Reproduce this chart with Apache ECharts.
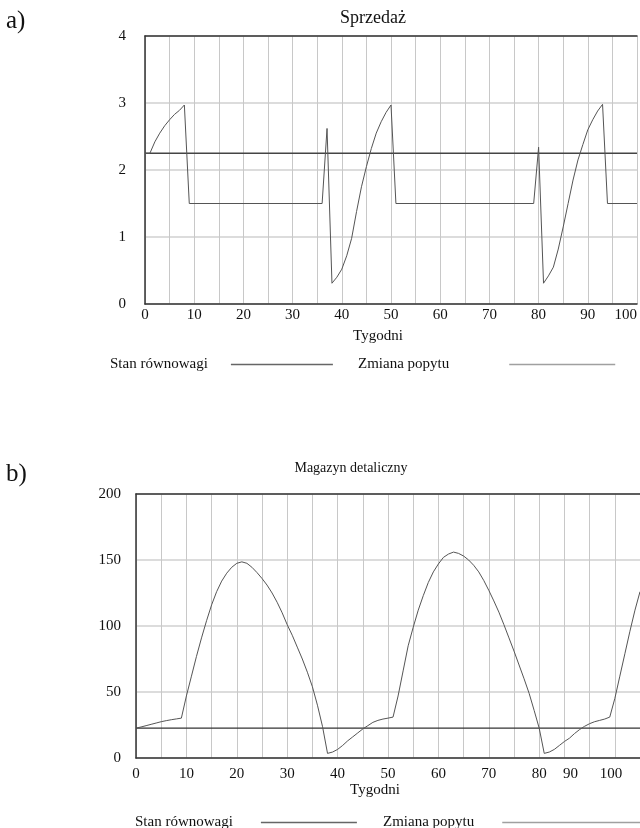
<!DOCTYPE html>
<html>
<head>
<meta charset="utf-8">
<title>Sprzedaż / Magazyn detaliczny</title>
<script src="https://cdn.jsdelivr.net/npm/echarts@6/dist/echarts.min.js"></script>
<style>
  html, body { margin: 0; padding: 0; background: #fff; }
  #main { width: 640px; height: 828px; }
</style>
</head>
<body>
<div id="main"></div>
<script>
// a) Sprzedaz - tygodnie i wartosci (odczytane z wykresu)
var salesWeeks = [0, 1, 2, 3, 4, 5, 6, 7, 8, 9,
  36, 37, 38, 39, 40, 41, 42, 43, 44, 45, 46, 47, 48, 49, 50, 51,
  79, 80, 81, 82, 83, 84, 85, 86, 87, 88, 89, 90, 91, 92, 93, 94,
  100];
var salesValues = [2.25, 2.25, 2.42, 2.55, 2.66, 2.75, 2.83, 2.89, 2.97, 1.5,
  1.5, 2.62, 0.31, 0.4, 0.52, 0.72, 0.98, 1.38, 1.75, 2.05, 2.32, 2.55, 2.72, 2.86, 2.97, 1.5,
  1.5, 2.34, 0.31, 0.42, 0.55, 0.82, 1.15, 1.5, 1.85, 2.15, 2.38, 2.6, 2.75, 2.88, 2.98, 1.5,
  1.5];
var salesEqWeeks = [0, 100];
var salesEqValues = [2.25, 2.25];

// b) Magazyn detaliczny - wartosc dla kazdego tygodnia 0..100
var stockValues = [22.6, 23.5, 24.5, 25.5, 26.5, 27.5, 28.3, 29, 29.6, 30.2,
  47, 62, 77, 91, 104, 116, 126, 134, 140, 144.5,
  147.5, 148.6, 147.5, 144.5, 140.5, 136, 131, 125, 118, 110,
  101, 93, 84, 75, 65, 54, 40, 24, 3.5, 4.5,
  6.5, 9.5, 13, 16, 19, 22, 24.5, 27, 28.5, 29.5,
  30.2, 31, 47, 66, 85, 99, 112, 123, 133, 141,
  147, 152, 154.5, 156, 155, 153, 150, 146, 141, 134.5,
  127, 119, 110.5, 101, 91, 81, 70.5, 60, 49, 36,
  22.6, 3.5, 4.5, 6.5, 9.5, 12.5, 15, 18.5, 21.5, 24,
  26, 27.5, 28.5, 29.5, 31, 45, 62, 79, 96, 112,
  126];
var stockEqWeeks = [0, 100];
var stockEqValues = [22.6, 22.6];

var salesTicksY = [0, 1, 2, 3, 4];
var stockTicksY = [0, 50, 100, 150, 200];
var weekTicks = [0, 10, 20, 30, 40, 50, 60, 70, 80, 90, 100];

var seriesNames = ['Stan równowagi', 'Zmiana popytu'];

var FONT = '"Liberation Serif", "Times New Roman", serif';

var Resketch = {
  pairs: function (xs, ys) {
    var out = [];
    for (var i = 0; i < xs.length; i++) {
      out.push([xs[i], ys[i]]);
    }
    return out;
  },

  weekLabel: function (v) {
    return weekTicks.indexOf(v) >= 0 ? String(v) : '';
  },

  xAxisBase: function (idx) {
    return {
      type: 'value', gridIndex: idx, min: 0, max: 100, interval: 5,
      axisLine: { show: true, lineStyle: { color: '#333', width: 1.5 } },
      axisTick: { show: false },
      splitLine: { show: true, lineStyle: { color: '#c8c8c8', width: 1 } },
      axisLabel: { color: '#111', fontFamily: FONT, fontSize: 15 }
    };
  },

  // gorna krawedz ramki (prawej nie widac na obrazku)
  xAxisTop: function (idx) {
    return {
      type: 'value', gridIndex: idx, position: 'top', min: 0, max: 100,
      axisLine: { show: true, lineStyle: { color: '#333', width: 1.5 } },
      axisTick: { show: false }, axisLabel: { show: false },
      splitLine: { show: false }
    };
  },

  yAxisBase: function (idx, ticks) {
    return {
      type: 'value', gridIndex: idx,
      min: ticks[0], max: ticks[ticks.length - 1], interval: ticks[1] - ticks[0],
      axisLine: { show: true, lineStyle: { color: '#333', width: 1.5 } },
      axisTick: { show: false },
      splitLine: { show: true, lineStyle: { color: '#d0d0d0', width: 1.5 } },
      axisLabel: { color: '#111', fontFamily: FONT, fontSize: 15 }
    };
  },

  // jedna pozycja legendy: tekst, potem linia; odstep robiony paddingiem
  legendItem: function (idx, left, top, padRight, iconW) {
    var colors = ['#666', '#a0a0a0'];
    return {
      left: left, top: top, orient: 'horizontal', align: 'right',
      itemWidth: iconW, itemHeight: 1.5, padding: 0,
      selectedMode: false,
      textStyle: { fontFamily: FONT, fontSize: 15, color: '#111' },
      data: [
        { name: seriesNames[idx], icon: 'rect', itemStyle: { color: colors[idx] },
          textStyle: { fontFamily: FONT, fontSize: 15, color: '#111', padding: [0, padRight, 0, 0] } }
      ]
    };
  },

  chartOption: function () {
    var xa = Resketch.xAxisBase(0);
    xa.axisLabel.formatter = Resketch.weekLabel;
    xa.axisLabel.margin = 4;
    xa.axisLabel.alignMaxLabel = 'right';

    var xb = Resketch.xAxisBase(1);
    xb.axisLabel.margin = 9;
    // w oryginale etykiety 90 i 100 sa przesuniete w lewo
    xb.axisLabel.formatter = function (v) {
      if (v === 90) return '{s1|90}';
      if (v === 100) return '{s2|100}';
      return Resketch.weekLabel(v);
    };
    xb.axisLabel.rich = {
      s1: { fontFamily: FONT, fontSize: 15, color: '#111', padding: [0, 38, 0, 0] },
      s2: { fontFamily: FONT, fontSize: 15, color: '#111', padding: [0, 58, 0, 0] }
    };

    var ya = Resketch.yAxisBase(0, salesTicksY);
    ya.axisLabel.margin = 19;
    var yb = Resketch.yAxisBase(1, stockTicksY);
    yb.axisLabel.margin = 15;

    var titleText = { fontFamily: FONT, fontWeight: 'normal', color: '#111' };
    function tt(extra) {
      var s = {};
      for (var k in titleText) s[k] = titleText[k];
      for (var e in extra) s[e] = extra[e];
      return s;
    }

    return {
      backgroundColor: '#fff',
      animation: false,
      title: [
        { text: 'a)', left: 6, top: 9, padding: 0, textStyle: tt({ fontSize: 25 }) },
        { text: 'Sprzedaż', left: 373, top: 9, padding: 0, textAlign: 'center', textStyle: tt({ fontSize: 18 }) },
        { text: 'Tygodni', left: 378, top: 329, padding: 0, textAlign: 'center', textStyle: tt({ fontSize: 15 }) },
        { text: 'b)', left: 6, top: 462, padding: 0, textStyle: tt({ fontSize: 25 }) },
        { text: 'Magazyn detaliczny', left: 351, top: 461, padding: 0, textAlign: 'center', textStyle: tt({ fontSize: 14 }) },
        { text: 'Tygodni', left: 375, top: 783, padding: 0, textAlign: 'center', textStyle: tt({ fontSize: 15 }) }
      ],
      legend: [
        Resketch.legendItem(0, 110, 357, 18, 102),
        Resketch.legendItem(1, 358, 357, 55, 106),
        Resketch.legendItem(0, 135, 815, 23, 96),
        Resketch.legendItem(1, 383, 815, 23, 140)
      ],
      grid: [
        { left: 145, top: 36, width: 496, height: 268, show: false },
        { left: 136, top: 494, width: 520, height: 264, show: false }
      ],
      xAxis: [xa, xb, Resketch.xAxisTop(0), Resketch.xAxisTop(1)],
      yAxis: [ya, yb],
      series: [
        { name: seriesNames[0], type: 'line', xAxisIndex: 0, yAxisIndex: 0,
          symbol: 'none', lineStyle: { color: '#444', width: 1.5 },
          data: Resketch.pairs(salesEqWeeks, salesEqValues), z: 3 },
        { name: seriesNames[1], type: 'line', xAxisIndex: 0, yAxisIndex: 0,
          symbol: 'none', lineStyle: { color: '#555', width: 1 },
          data: Resketch.pairs(salesWeeks, salesValues), z: 4 },
        { name: seriesNames[0], type: 'line', xAxisIndex: 1, yAxisIndex: 1,
          symbol: 'none', lineStyle: { color: '#333', width: 1.2 },
          data: Resketch.pairs(stockEqWeeks, stockEqValues), z: 3 },
        { name: seriesNames[1], type: 'line', xAxisIndex: 1, yAxisIndex: 1,
          symbol: 'none', lineStyle: { color: '#555', width: 1 },
          data: stockValues.map(function (v, i) { return [i, v]; }), z: 4 }
      ]
    };
  },

  init: function () {
    var chart = echarts.init(document.getElementById('main'), null, { renderer: 'canvas' });
    chart.setOption(Resketch.chartOption(), true);
  }
};

window.onload = function () {
  Resketch.init();
};
</script>
</body>
</html>
